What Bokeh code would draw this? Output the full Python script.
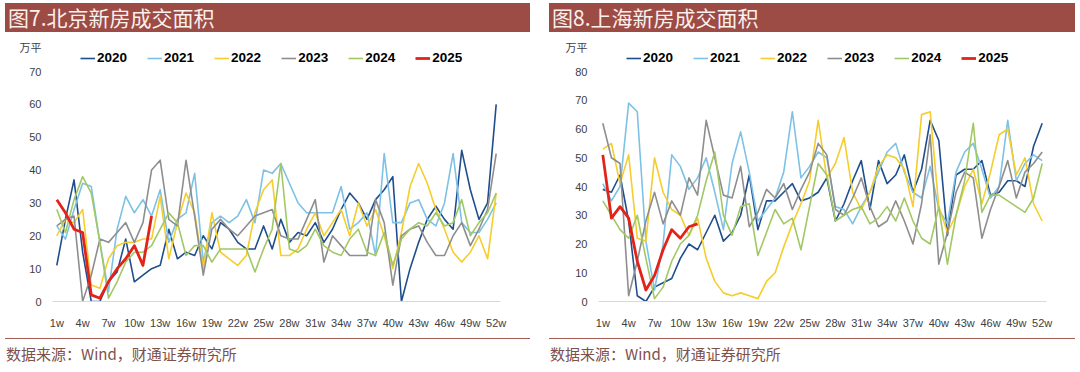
from bokeh.plotting import figure
from bokeh.models import Range1d, FixedTicker, Legend, LegendItem, Div
from bokeh.layouts import row, column
from bokeh.embed import file_html
from bokeh.resources import INLINE

# ---------------- data ----------------
weeks = list(range(1, 53))
week_ticks = [1, 4, 7, 10, 13, 16, 19, 22, 25, 28, 31, 34, 37, 40, 43, 46, 49, 52]
week_tick_labels = ["1w", "4w", "7w", "10w", "13w", "16w", "19w", "22w", "25w", "28w",
                    "31w", "34w", "37w", "40w", "43w", "46w", "49w", "52w"]
years = ["2020", "2021", "2022", "2023", "2024", "2025"]

bj_2020 = [11, 25, 37, 15, 0, 0, 6, 9, 19, 6, 8, 10, 11, 22, 13, 15, 14, 20, 16, 24, 22, 18, 16, 16, 23, 16,
           25, 18, 21, 20, 24, 18, 22, 28, 33, 30, 25, 31, 34, 38, 0, 10, 18, 25, 29, 25, 22, 46, 34, 25, 30, 60]
bj_2021 = [23, 19, 28, 36, 35, 18, 3, 22, 32, 27, 31, 26, 34, 18, 25, 27, 39, 12, 24, 26, 24, 26, 31, 24, 40, 39,
           42, 36, 30, 27, 27, 27, 27, 35, 22, 24, 27, 14, 45, 24, 24, 30, 31, 25, 23, 30, 45, 24, 21, 21, 25, 30]
bj_2022 = [20, 25, 24, 28, 5, 4, 13, 17, 18, 18, 19, 19, 32, 13, 24, 33, 27, 10, 27, 15, 13, 11, 14, 27, 34, 37,
           14, 14, 16, 22, 27, 20, 24, 28, 20, 30, 23, 28, 20, 10, 21, 35, 42, 36, 28, 22, 15, 12, 15, 20, 13, 33]
bj_2023 = [23, 25, 26, 0, 8, 19, 18, 21, 24, 18, 24, 40, 43, 25, 23, 43, 26, 8, 22, 25, 22, 20, 23, 26, 27, 28,
           20, 19, 19, 25, 31, 12, 20, 17, 14, 14, 14, 31, 24, 5, 20, 22, 23, 18, 14, 14, 20, 24, 17, 22, 28, 45]
bj_2024 = [28, 21, 31, 38, 33, 18, 1, 6, 12, 15, 15, 17, 22, 27, 24, 14, 17, 17, 12, 16, 16, 16, 16, 9, 16, 22,
           42, 16, 15, 17, 22, 17, 15, 14, 19, 22, 15, 14, 21, 11, 19, 22, 24, 23, 27, 23, 24, 31, 20, 24, 27, 33]
bj_2025 = [31, 27, 22, 21, 2, 1, 6, 10, 13, 17, 11, 26]

sh_2020 = [39, 38, 44, 28, 2, 0, 5, 6.5, 8, 15, 20, 18, 24, 30, 21, 24, 30, 44, 25, 35, 35, 38, 41, 35, 36, 38,
           43, 28, 34, 42, 49, 32, 49, 41, 44, 51, 38, 46, 63, 56, 23, 44, 46, 46, 49, 37, 38, 42, 42, 40, 54, 62]
sh_2021 = [41, 35, 40, 69, 66, 21, 4, 20, 51, 47, 39, 43, 50, 38, 25, 48, 59, 45, 28, 32, 36, 45, 66, 43, 47, 52,
           50, 33, 32, 27, 33, 38, 45, 52, 55, 45, 38, 36, 47, 32, 27, 45, 52, 55, 46, 36, 40, 63, 42, 48, 51, 49]
sh_2022 = [53, 55, 41, 51, 22, 21, 50, 38, 32, 30, 23, 29, 15, 7, 3, 2, 3, 2, 1, 7, 10, 19, 27, 34, 42, 63,
           43, 48, 57, 38, 32, 38, 47, 51, 50, 46, 33, 65, 66, 33, 24, 30, 40, 46, 34, 45, 58, 60, 44, 50, 34, 28]
sh_2023 = [62, 50, 48, 2, 14, 28, 38, 27, 35, 30, 43, 37, 63, 50, 37, 36, 47, 26, 31, 39, 36, 41, 32, 39, 45, 55,
           51, 32, 30, 36, 43, 33, 26, 28, 35, 28, 20, 34, 58, 13, 24, 38, 45, 43, 22, 32, 40, 49, 36, 45, 48, 52]
sh_2024 = [35, 30, 25, 22, 30, 15, 1, 5, 14, 20, 23, 30, 42, 52, 30, 23, 33, 34, 16, 24, 32, 27, 29, 18, 33, 48,
           44, 28, 30, 32, 33, 27, 29, 33, 28, 36, 28, 22, 20, 33, 13, 30, 42, 62, 31, 37, 37, 35, 33, 31, 36, 48]
sh_2025 = [51, 29, 33, 29, 14, 4, 9, 18, 25, 22, 26, 27]

y_ticks_bj = [0, 10, 20, 30, 40, 50, 60, 70]
y_ticks_sh = [0, 10, 20, 30, 40, 50, 60, 70, 80]
unit_label = "万平"
source_note = "数据来源：Wind，财通证券研究所"

# ---------------- style ----------------
COLORS = ["#1F4E8C", "#7DC2E6", "#F5CD2D", "#8E8E8E", "#A2C865", "#E2231A"]
WIDTHS = [1.6, 1.6, 1.6, 1.6, 1.6, 2.8]
BAR = "#9D4B45"
TXT = "#404040"
FOOT_LINE = "#A55A52"
FOOT_TXT = "#80504A"
CJK = "Noto Sans CJK SC"
LAT = "Liberation Sans"

FRAME_H = 261          # frame from page y 40 to 301
AXIS_SPAN = 230        # pixels between 0 and the top tick


def title_div(text, width, left):
    return Div(text=text, width=width, height=29, margin=(3, 0, 0, left),
               styles={"background-color": BAR, "color": "#FAF0EC",
                       "font-family": CJK, "font-size": "21px", "line-height": "29px",
                       "text-indent": "3px", "white-space": "nowrap", "overflow": "hidden"})


def footer_div(width, left):
    return Div(text=source_note, width=width, height=30, margin=(0, 0, 0, left),
               styles={"border-top": f"1px solid {FOOT_LINE}", "color": FOOT_TXT,
                       "font-family": CJK, "font-size": "15px", "line-height": "30px",
                       "text-indent": "1px", "white-space": "nowrap"})


def chart_fig(series, y_ticks, width, ml, mr):
    top_tick = y_ticks[-1]
    ytop = FRAME_H * top_tick / AXIS_SPAN
    unit_pos = (FRAME_H - 7) * top_tick / AXIS_SPAN   # 7px below the frame top
    p = figure(width=width, height=306, x_range=Range1d(0.5, 52.5), y_range=Range1d(0, ytop),
               output_backend="svg", toolbar_location=None,
               min_border_left=ml, min_border_right=mr, min_border_top=8, min_border_bottom=37)
    p.grid.visible = False
    p.outline_line_color = None

    items = []
    for yr, vals, c, w in zip(years, series, COLORS, WIDTHS):
        r = p.line(weeks[:len(vals)], vals, line_color=c, line_width=w, line_join="round")
        items.append(LegendItem(label=yr, renderers=[r]))

    p.xaxis.ticker = FixedTicker(ticks=week_ticks)
    p.xaxis.major_label_overrides = dict(zip(week_ticks, week_tick_labels))
    p.xaxis.axis_line_color = "#D9D9D9"
    p.xaxis.major_tick_line_color = None
    p.xaxis.minor_tick_line_color = None
    p.xaxis.major_label_standoff = 9
    p.xaxis.major_label_text_font = LAT
    p.xaxis.major_label_text_font_size = "11px"
    p.xaxis.major_label_text_color = TXT

    p.yaxis.ticker = FixedTicker(ticks=y_ticks + [unit_pos])
    p.yaxis.major_label_overrides = {unit_pos: unit_label}
    p.yaxis.axis_line_color = None
    p.yaxis.major_tick_line_color = None
    p.yaxis.minor_tick_line_color = None
    p.yaxis.major_label_standoff = 5
    p.yaxis.major_label_text_font = f"{LAT}, {CJK}"
    p.yaxis.major_label_text_font_size = "11px"
    p.yaxis.major_label_text_color = TXT

    legend = Legend(items=items, orientation="horizontal", location=(28, 236),
                    glyph_width=15, glyph_height=14, label_standoff=2, spacing=20,
                    padding=0, margin=0, border_line_color=None, background_fill_alpha=0,
                    label_height=14, label_text_font=LAT, label_text_font_size="13.5px",
                    label_text_font_style="bold", label_text_color="#000000")
    p.add_layout(legend)
    return p


# left panel (Beijing)
bj_series = [bj_2020, bj_2021, bj_2022, bj_2023, bj_2024, bj_2025]
left = column(
    title_div("图7.北京新房成交面积", 525, 5),
    chart_fig(bj_series, y_ticks_bj, 545, 52, 45),
    footer_div(525, 5),
)

# right panel (Shanghai)
sh_series = [sh_2020, sh_2021, sh_2022, sh_2023, sh_2024, sh_2025]
right = column(
    title_div("图8.上海新房成交面积", 526, 4),
    chart_fig(sh_series, y_ticks_sh, 534, 53, 33),
    footer_div(526, 4),
)

layout = row(left, right)

open("out.html", "w").write(file_html(layout, INLINE))
